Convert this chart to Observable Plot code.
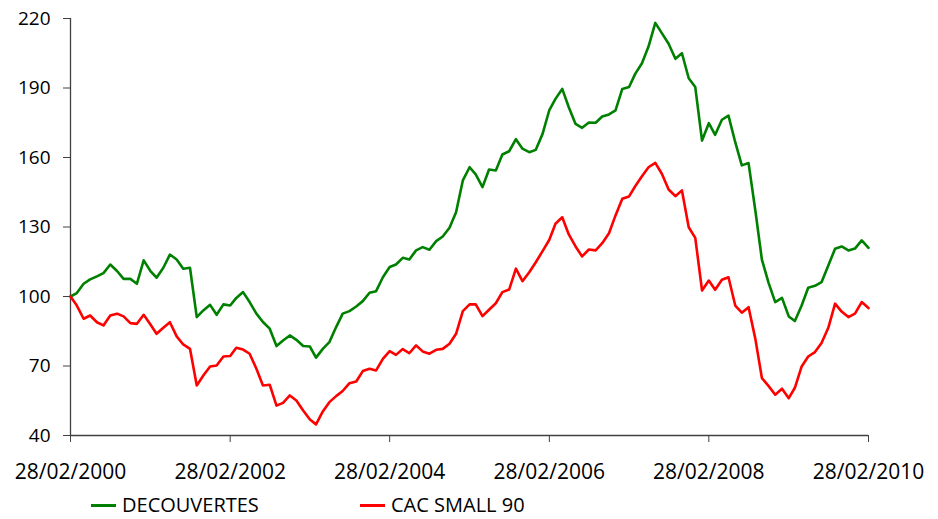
<!DOCTYPE html>
<html><head><meta charset="utf-8">
<script src="https://cdn.jsdelivr.net/npm/d3@7"></script>
<script src="https://cdn.jsdelivr.net/npm/@observablehq/plot@0.6"></script>
<style>
body{margin:0;background:#fff;}
#wrap{position:relative;width:938px;height:519px;font-family:"Open Sans",sans-serif;}
.leg{position:absolute;top:494px;height:22px;line-height:22px;display:flex;align-items:center;font-size:20px;color:#000;white-space:nowrap;}
.leg .sw{display:inline-block;width:25px;height:3px;margin-right:6px;}
</style></head><body><div id="wrap"></div>
<script>
// Series names and colours
const seriesNames = ["DECOUVERTES", "CAC SMALL 90"];
const seriesColors = ["#008000", "#ff0000"];

// Monthly observations, 28/02/2000 .. 28/02/2010 (121 months)
const startDate = new Date(Date.UTC(2000, 1, 28));
const decouvertes = [
  100, 101.5, 105.5, 107.4, 108.7, 110.1, 113.8, 111.0, 107.6, 107.6,
  105.5, 115.6, 111.0, 108.1, 112.4, 118.1, 116.0, 112.0, 112.4, 91.1,
  94.0, 96.4, 92.1, 96.6, 96.1, 99.4, 101.9, 97.6, 92.6, 89.0,
  86.1, 78.6, 81.0, 83.2, 81.3, 78.6, 78.4, 73.6, 77.4, 80.3,
  86.8, 92.6, 93.7, 95.7, 98.0, 101.6, 102.3, 108.3, 112.7, 113.8,
  116.7, 116.0, 119.9, 121.3, 120.2, 123.9, 125.9, 129.7, 136.4, 150.1,
  155.8, 152.7, 147.2, 154.8, 154.4, 161.3, 162.7, 167.9, 163.8, 162.3,
  163.3, 170.2, 180.5, 185.3, 189.6, 181.7, 174.5, 172.8, 175.1, 175.0,
  177.7, 178.6, 180.3, 189.6, 190.4, 196.1, 200.7, 207.9, 218.1, 213.7,
  209.1, 202.6, 205.0, 194.2, 190.4, 167.3, 174.8, 169.8, 176.3, 178.1,
  166.6, 156.6, 157.6, 137.1, 115.9, 105.8, 97.6, 99.4, 91.4, 89.4,
  96.1, 103.8, 104.6, 106.2, 113.4, 120.6, 121.6, 119.9, 120.7, 124.2,
  121.0
];
const cacSmall90 = [
  100, 96.1, 90.4, 91.8, 88.9, 87.5, 91.8, 92.6, 91.4, 88.5,
  88.2, 92.1, 87.9, 83.9, 86.5, 88.9, 82.8, 79.3, 77.4, 61.6,
  65.9, 69.8, 70.2, 74.1, 74.3, 77.9, 77.1, 75.3, 68.8, 61.6,
  61.9, 52.9, 54.1, 57.3, 55.1, 50.8, 46.9, 44.8, 50.4, 54.4,
  57.0, 59.2, 62.6, 63.3, 67.8, 68.8, 68.1, 73.1, 76.4, 74.8,
  77.3, 75.5, 78.9, 76.3, 75.3, 77.0, 77.4, 79.6, 83.9, 93.7,
  96.6, 96.6, 91.5, 94.3, 97.1, 101.9, 103.0, 112.0, 106.6, 110.5,
  114.8, 119.6, 124.5, 131.4, 134.2, 126.8, 121.6, 117.3, 120.3, 119.9,
  123.0, 127.3, 135.0, 142.2, 143.2, 147.6, 151.9, 155.8, 157.7, 153.0,
  146.2, 143.3, 145.8, 129.9, 125.3, 102.6, 106.9, 102.9, 107.2, 108.3,
  96.1, 93.0, 95.4, 81.7, 64.8, 61.3, 57.6, 60.2, 56.1, 60.6,
  69.8, 74.1, 76.0, 79.9, 86.5, 96.9, 93.5, 91.1, 92.6, 97.6,
  95.0
];

// Axis ticks
const xTickLabels = ["28/02/2000", "28/02/2002", "28/02/2004", "28/02/2006", "28/02/2008", "28/02/2010"];
const yTicks = [40, 70, 100, 130, 160, 190, 220];

const parseLabel = s => { const [d, m, y] = s.split("/").map(Number); return new Date(Date.UTC(y, m - 1, d)); };
const xTickDates = xTickLabels.map(parseLabel);
const monthDate = i => d3.utcMonth.offset(startDate, i);

const rows = [];
[decouvertes, cacSmall90].forEach((vals, s) => vals.forEach((v, i) => rows.push({date: monthDate(i), value: v, series: seriesNames[s]})));

const axisColor = "#404040";
const chart = Plot.plot({
  width: 938,
  height: 490,
  marginLeft: 70,
  marginRight: 70,
  marginTop: 18,
  marginBottom: 55,
  style: {fontFamily: "'Open Sans', sans-serif", color: "#000", background: "#fff"},
  x: {type: "utc", domain: [xTickDates[0], xTickDates[xTickDates.length - 1]]},
  y: {domain: [40, 220]},
  color: {domain: seriesNames, range: seriesColors},
  marks: [
    Plot.axisY({ticks: yTicks, tickSize: 7, tickPadding: 13, fontSize: 19, stroke: axisColor, label: null, color: "#000"}),
    Plot.axisX({ticks: xTickDates, tickSize: 7, tickPadding: 22, fontSize: 21, stroke: axisColor, label: null,
      tickFormat: d => xTickLabels[xTickDates.findIndex(t => +t === +d)]}),
    Plot.ruleX([xTickDates[0]], {stroke: axisColor, strokeWidth: 1.3}),
    Plot.ruleY([40], {stroke: axisColor, strokeWidth: 1.3}),
    Plot.line(rows, {x: "date", y: "value", z: "series", stroke: "series", strokeWidth: 2.6, strokeLinejoin: "round"})
  ]
});
const wrap = document.getElementById("wrap");
wrap.appendChild(chart);

const legendLeft = [91, 360];
seriesNames.forEach((n, i) => {
  const d = document.createElement("div");
  d.className = "leg";
  d.style.left = legendLeft[i] + "px";
  d.innerHTML = `<span class="sw" style="background:${seriesColors[i]}"></span><span>${n}</span>`;
  wrap.appendChild(d);
});
</script></body></html>
